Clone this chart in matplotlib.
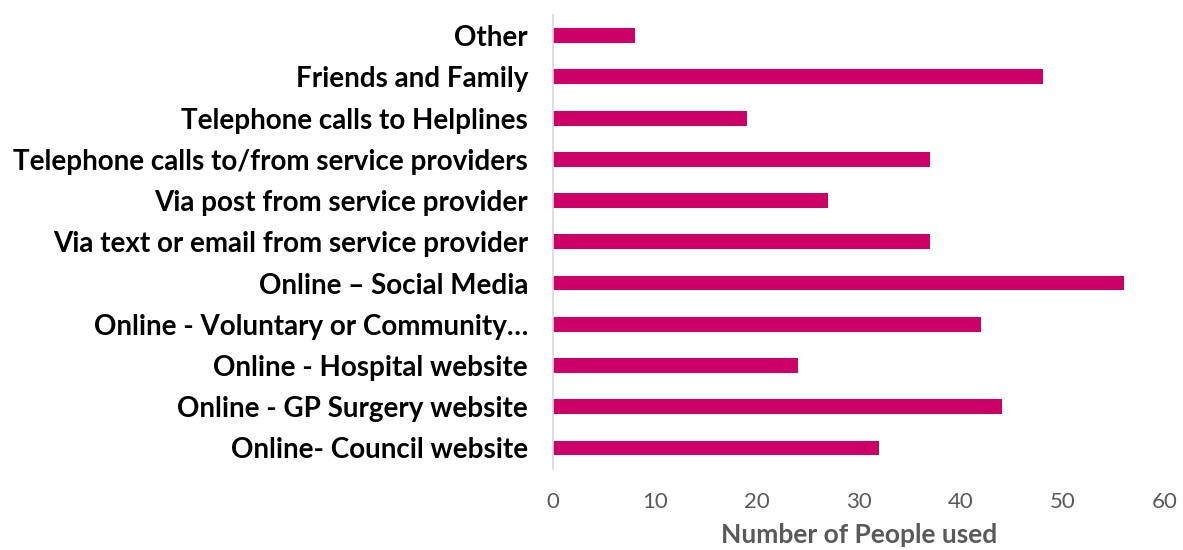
import matplotlib
matplotlib.use("Agg")
import matplotlib.pyplot as plt

# sources of information, listed bottom to top as drawn
categories = [
    "Online- Council website",
    "Online - GP Surgery website",
    "Online - Hospital website",
    "Online - Voluntary or Community…",
    "Online – Social Media",
    "Via text or email from service provider",
    "Via post from service provider",
    "Telephone calls to/from service providers",
    "Telephone calls to Helplines",
    "Friends and Family",
    "Other",
]
people_used = [32, 44, 24, 42, 56, 37, 27, 37, 19, 48, 8]
x_ticks = [0, 10, 20, 30, 40, 50, 60]

BAR = "#CC0066"
GREY = "#595959"

plt.rcParams["font.family"] = ["Lato", "DejaVu Sans"]

fig = plt.figure(figsize=(11.83, 5.5), dpi=100)
ax = fig.add_axes([0.4675, 0.148, 0.5173, 0.8247])

ax.barh(range(len(categories)), people_used, height=0.36, color=BAR)

ax.set_xlim(0, 60)
ax.set_ylim(-0.5, len(categories) - 0.5)
ax.set_xticks(x_ticks)
ax.set_yticks(range(len(categories)))
ax.set_yticklabels(categories, fontsize=20, fontweight="bold", color="black")
ax.tick_params(axis="y", length=0, pad=18)
ax.tick_params(axis="x", length=0, pad=17, labelsize=16, labelcolor=GREY)

for side in ("top", "right", "bottom"):
    ax.spines[side].set_visible(False)
ax.spines["left"].set_color("#D9D9D9")
ax.spines["left"].set_linewidth(1.2)

ax.set_xlabel("Number of People used", fontsize=19, fontweight="bold",
              color=GREY, labelpad=8)

fig.savefig("out.png", dpi=100)
